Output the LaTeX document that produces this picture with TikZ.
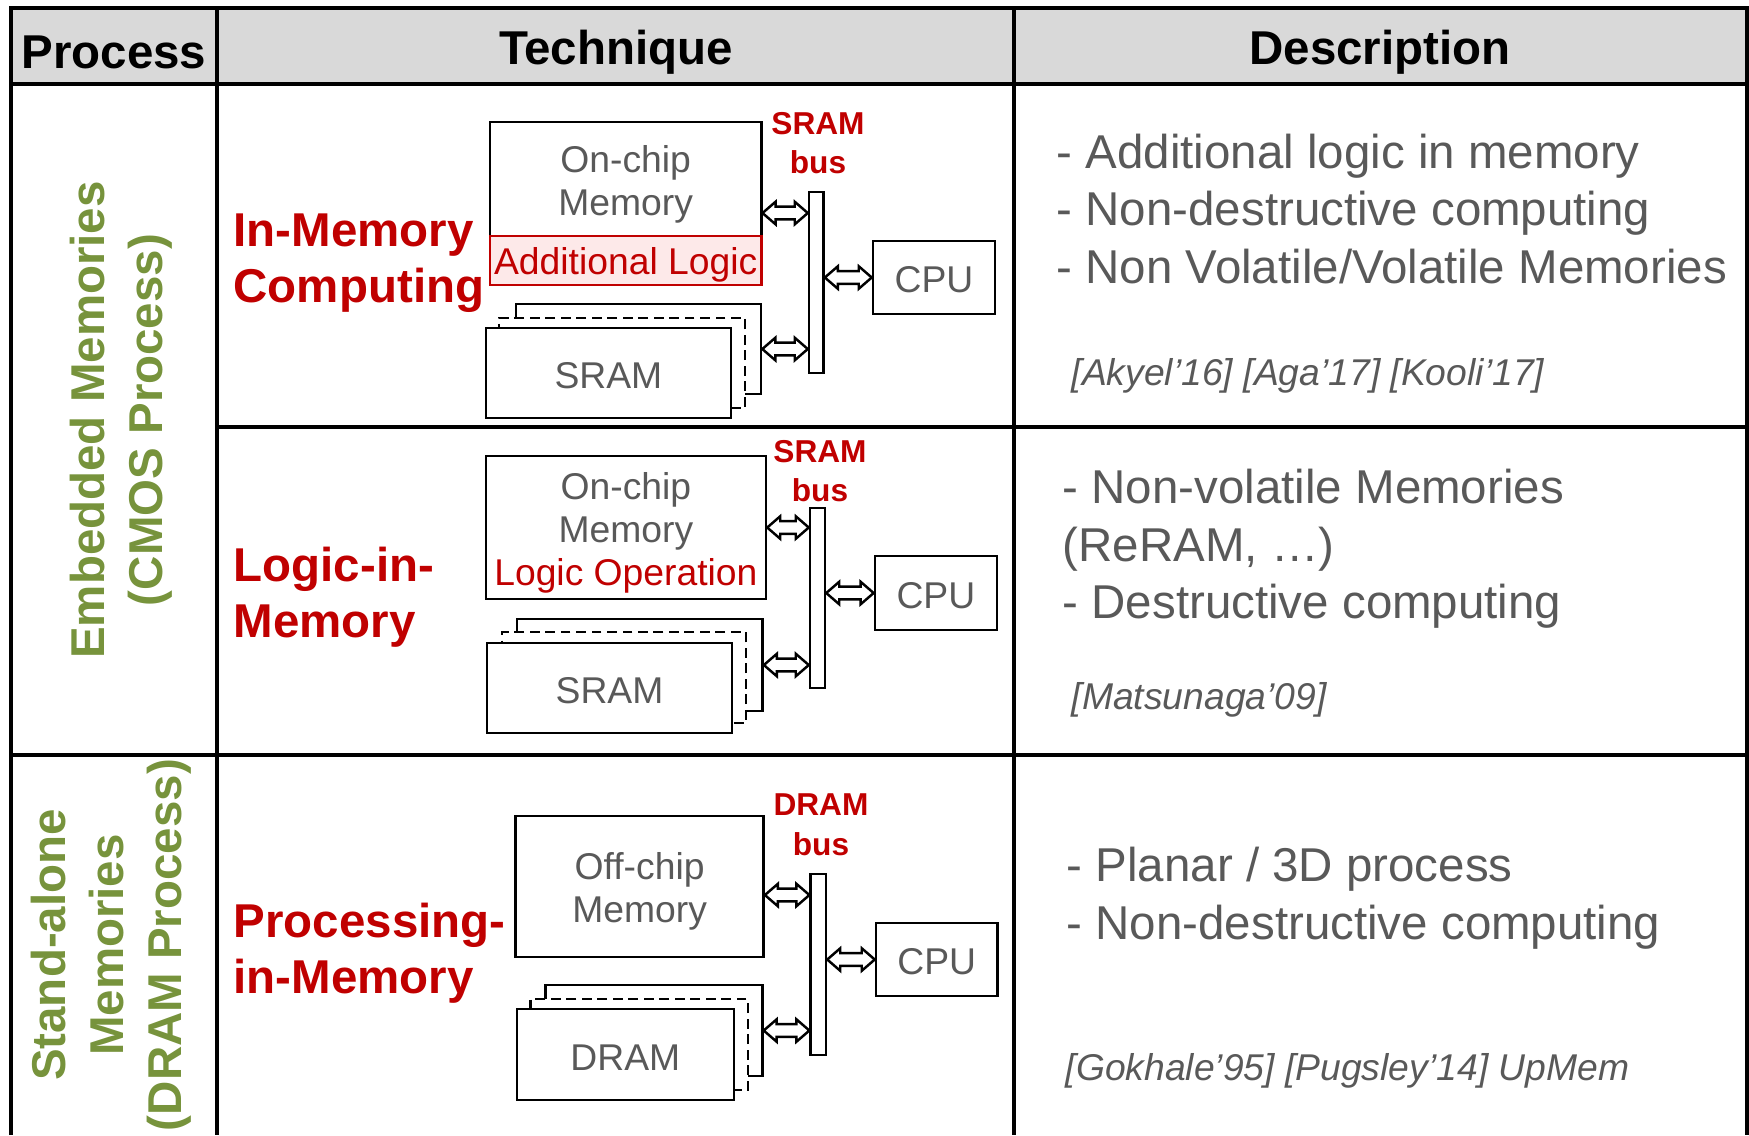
\documentclass[tikz,border=0pt]{standalone}
\usepackage{fontspec}
\setmainfont{Liberation Sans}
\usetikzlibrary{arrows.meta, positioning, calc}

\definecolor{hdrgray}{RGB}{217,217,217}
\definecolor{txtgray}{RGB}{89,89,89}
\definecolor{techred}{RGB}{192,0,0}
\definecolor{procgreen}{RGB}{119,147,60}
\definecolor{logicpink}{RGB}{253,233,233}

\newcommand{\memstrut}{\rule{0pt}{10.6pt}}

\tikzset{
	tbl/.style={line width=1pt},
	hdr/.style={font=\fontsize{13.5}{16}\selectfont\bfseries},
	proc/.style={rotate=90, align=center, text=procgreen, font=\fontsize{13.5}{16.5}\selectfont\bfseries},
	tech/.style={anchor=west, align=left, inner sep=0pt, text=techred, font=\fontsize{13.5}{15.9}\selectfont\bfseries},
	desc/.style={anchor=west, align=left, inner sep=0pt, text=txtgray, font=\fontsize{13.5}{16.4}\selectfont},
	cite/.style={anchor=west, inner sep=0pt, text=txtgray, font=\fontsize{10.6}{12}\selectfont\itshape},
	membox/.style={draw, line width=0.7pt, fill=white, align=center, inner sep=0pt, text=txtgray, font=\fontsize{10.6}{12.3}\selectfont},
	cpubox/.style={draw, line width=0.7pt, fill=white, inner sep=0pt, text=txtgray, font=\fontsize{10.6}{12.3}\selectfont, execute at begin node={\rule{0pt}{8.8pt}}},
	logicbox/.style={draw=techred, line width=0.7pt, fill=logicpink, inner sep=0pt, text=techred, font=\fontsize{10.6}{12.3}\selectfont, execute at begin node={\rule{0pt}{10pt}}},
	stackbox/.style={cpubox},
	stackdash/.style={stackbox, dash pattern=on 2.8pt off 1.6pt},
	busbar/.style={draw, line width=0.7pt, fill=white, inner sep=0pt},
	buslabel/.style={align=center, inner sep=0pt, text=techred, font=\fontsize{9}{11.3}\selectfont\bfseries},
	% hollow two-headed block arrow between two points on one level
	dblarrow/.style={line width=0.7pt, fill=white, line join=miter, to path={
		let \p1=(\tikztostart), \p2=(\tikztotarget) in
		(\x1,\y1) -- ++(3.7pt,3.2pt) -- ++(0pt,-1.4pt) -- (\x2-3.7pt,\y1+1.8pt) -- ++(0pt,1.4pt)
		-- (\x2,\y1) -- ++(-3.7pt,-3.2pt) -- ++(0pt,1.4pt) -- (\x1+3.7pt,\y1-1.8pt) -- ++(0pt,-1.4pt) -- cycle}},
}

\begin{document}
\begin{tikzpicture}[x=0.01cm, y=-0.01cm]
	\useasboundingbox (0,0) rectangle (1749,1135);

	% table grid
	\fill[hdrgray] (11,8) rectangle (1747,84);
	\draw[tbl] (11,1135) -- (11,8) -- (1747,8) -- (1747,1135);
	\draw[tbl] (217,8) -- (217,1135);
	\draw[tbl] (1014,8) -- (1014,1135);
	\draw[line width=1.3pt] (11,84) -- (1747,84);
	\draw[tbl] (217,427) -- (1747,427);
	\draw[tbl] (11,755) -- (1747,755);

	% header
	\node[hdr] (hproc) at (114,52) {Process};
	\node[hdr] (htech) at (616,52) {Technique};
	\node[hdr] (hdesc) at (1380,52) {Description};

	% process column
	\node[proc] (embedded) at (121,420) {Embedded Memories\\(CMOS Process)};
	\node[proc] (standalone) at (111,945) {Stand-alone\\Memories\\(DRAM Process)};

	% technique names
	\node[tech] (imc) at (233,263.5) {In-Memory\\Computing};
	\node[tech] (lim) at (233,597.5) {Logic-in-\\Memory};
	\node[tech] (pim) at (233,953.5) {Processing-\\in-Memory};

	% row 1: in-memory computing
	\node[membox, minimum width=2.71cm, minimum height=1.14cm] (mem1) at (625.7,179) {\memstrut On-chip\\Memory};
	\node[logicbox, minimum width=2.71cm, minimum height=0.49cm] (logic1) at (625.7,260.5) {Additional Logic};
	\node[stackbox, minimum width=2.45cm, minimum height=0.9cm] (sram1b) at (638.5,349) {};
	\node[stackdash, minimum width=2.46cm, minimum height=0.9cm] (sram1m) at (622,363) {};
	\node[stackbox, minimum width=2.45cm, minimum height=0.9cm] (sram1) at (608.4,373) {SRAM};
	\node[busbar, minimum width=0.146cm, minimum height=1.81cm] (bus1) at (816.3,282.5) {};
	\node[cpubox, minimum width=1.22cm, minimum height=0.73cm] (cpu1) at (934,277.5) {CPU};
	\node[buslabel] (bl1) at (818,143) {SRAM\\bus};
	\draw[dblarrow] ([yshift=-0.34cm]mem1.east) to ([yshift=-0.34cm]mem1.east -| bus1.west);
	\draw[dblarrow] (sram1b.east) to (sram1b.east -| bus1.west);
	\draw[dblarrow] (bus1.east |- cpu1.west) to (cpu1.west);

	% row 2: logic-in-memory
	\node[membox, minimum width=2.8cm, minimum height=1.43cm] (mem2) at (625.9,527.5) {\memstrut On-chip\\Memory\\\textcolor{techred}{Logic Operation}};
	\node[stackbox, minimum width=2.455cm, minimum height=0.92cm] (sram2b) at (639.8,665) {};
	\node[stackdash, minimum width=2.44cm, minimum height=0.91cm] (sram2m) at (623.8,677.5) {};
	\node[stackbox, minimum width=2.45cm, minimum height=0.9cm] (sram2) at (609.5,688) {SRAM};
	\node[busbar, minimum width=0.15cm, minimum height=1.8cm] (bus2) at (817.5,598) {};
	\node[cpubox, minimum width=1.22cm, minimum height=0.74cm] (cpu2) at (935.9,593) {CPU};
	\node[buslabel] (bl2) at (820,471) {SRAM\\bus};
	\draw[dblarrow] (mem2.east) to (mem2.east -| bus2.west);
	\draw[dblarrow] (sram2b.east) to (sram2b.east -| bus2.west);
	\draw[dblarrow] (bus2.east |- cpu2.west) to (cpu2.west);

	% row 3: processing-in-memory
	\node[membox, minimum width=2.48cm, minimum height=1.41cm] (mem3) at (639.6,886.5) {\memstrut Off-chip\\Memory};
	\node[stackbox, minimum width=2.17cm, minimum height=0.91cm] (dram3b) at (653.9,1030.5) {};
	\node[stackdash, minimum width=2.17cm, minimum height=0.91cm] (dram3m) at (639.2,1044.5) {};
	\node[stackbox, minimum width=2.17cm, minimum height=0.91cm] (dram3) at (625.3,1054.5) {DRAM};
	\node[busbar, minimum width=0.154cm, minimum height=1.81cm] (bus3) at (818.3,964.5) {};
	\node[cpubox, minimum width=1.216cm, minimum height=0.73cm] (cpu3) at (936.8,959.5) {CPU};
	\node[buslabel] (bl3) at (821,825) {DRAM\\bus};
	\draw[dblarrow] ([yshift=-0.085cm]mem3.east) to ([yshift=-0.085cm]mem3.east -| bus3.west);
	\draw[dblarrow] (dram3b.east) to (dram3b.east -| bus3.west);
	\draw[dblarrow] (bus3.east |- cpu3.west) to (cpu3.west);

	% descriptions
	\node[desc] (desc1) at (1056,209) {- Additional logic in memory\\- Non-destructive computing\\- Non Volatile/Volatile Memories};
	\node[cite] (cite1) at (1071,375.5) {[Akyel’16] [Aga’17] [Kooli’17]};
	\node[desc] (desc2) at (1062,549) {- Non-volatile Memories\\(ReRAM, …)\\- Destructive computing};
	\node[cite] (cite2) at (1071,699.5) {[Matsunaga’09]};
	\node[desc] (desc3) at (1066,898.5) {- Planar / 3D process\\- Non-destructive computing};
	\node[cite] (cite3) at (1065,1070.5) {[Gokhale’95] [Pugsley’14] UpMem};
\end{tikzpicture}
\end{document}
